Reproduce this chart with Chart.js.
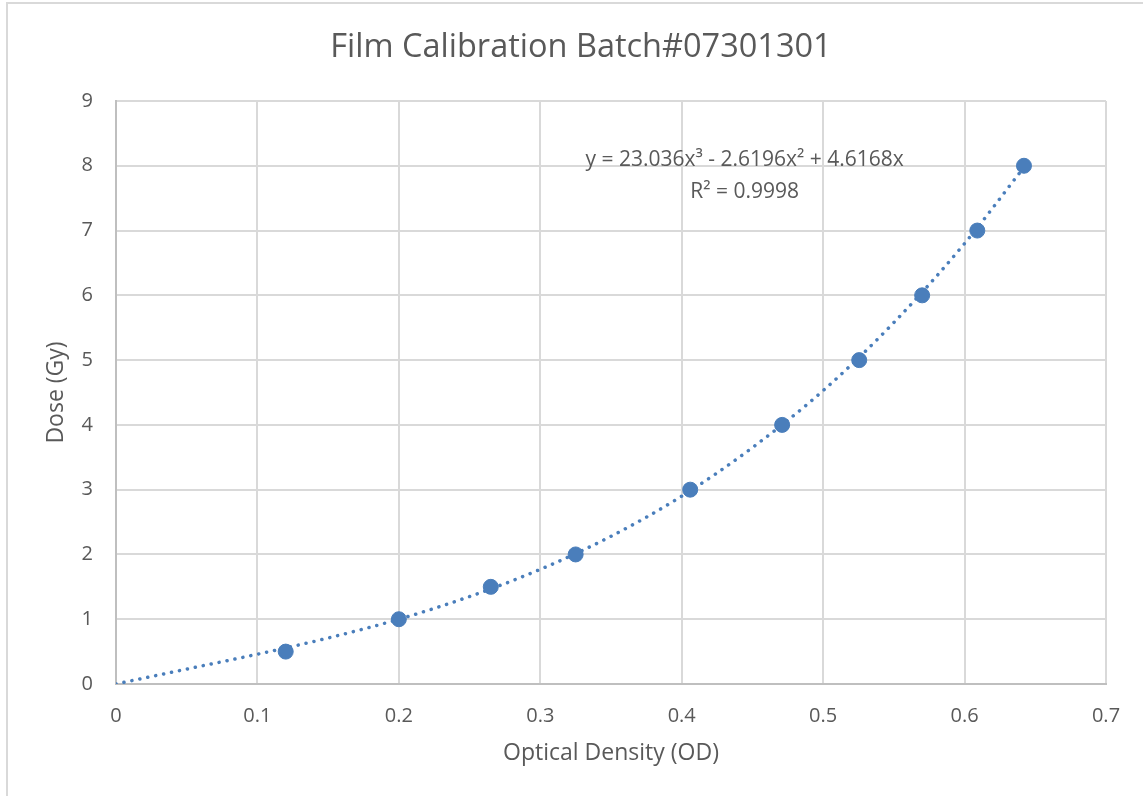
<!DOCTYPE html>
<html>
<head>
<meta charset="utf-8">
<script src="https://cdn.jsdelivr.net/npm/chart.js@4.4.1/dist/chart.umd.min.js"></script>
<style>
  body { margin: 0; background: #fff; }
  canvas { display: block; }
</style>
</head>
<body>
<canvas id="calChart" width="1143" height="796"></canvas>
<script>
// Measured points (optical density vs dose)
const odValues = [0.12, 0.2, 0.265, 0.325, 0.406, 0.471, 0.5255, 0.57, 0.609, 0.642];
const doseValues = [0.5, 1, 1.5, 2, 3, 4, 5, 6, 7, 8];

// Trendline
const trendOd = [0, 0.05, 0.1, 0.15, 0.2, 0.25, 0.3, 0.35, 0.4, 0.45, 0.5, 0.55, 0.6, 0.64];
const trendDose = [0, 0.23, 0.46, 0.71, 1.0, 1.35, 1.77, 2.28, 2.9, 3.65, 4.53, 5.58, 6.8, 7.92];

const chartTitle = 'Film Calibration Batch#07301301';
const equationLines = ['y = 23.036x³ - 2.6196x² + 4.6168x', 'R² = 0.9998'];

const textColor = '#595959';
const gridColor = '#d9d9d9';
const blue = '#4a7ebb';
const fontFamily = '"Open Sans", sans-serif';

// Outer frame, title (centred on the whole chart box like Excel) and trendline label
const extras = {
    id: 'extras',
    beforeDraw(chart) {
        const ctx = chart.ctx;
        ctx.save();
        ctx.fillStyle = '#fff';
        ctx.fillRect(0, 0, chart.width, chart.height);
        ctx.strokeStyle = '#d9d9d9';
        ctx.lineWidth = 2;
        ctx.strokeRect(7, 3, 2000, 2000);
        ctx.fillStyle = textColor;
        ctx.font = '32.5px ' + fontFamily;
        ctx.textAlign = 'center';
        ctx.textBaseline = 'middle';
        ctx.fillText(chartTitle, 581, 48);
        ctx.restore();
    },
    afterDraw(chart) {
        const ctx = chart.ctx;
        const x = chart.scales.x.getPixelForValue(0.4445);
        const y = chart.scales.y.getPixelForValue(8.09);
        ctx.save();
        ctx.fillStyle = textColor;
        ctx.font = '21px ' + fontFamily;
        ctx.textAlign = 'center';
        ctx.textBaseline = 'middle';
        ctx.fillText(equationLines[0], x, y);
        ctx.fillText(equationLines[1], x, y + 32);
        ctx.restore();
    }
};

new Chart(document.getElementById('calChart').getContext('2d'), {
    type: 'scatter',
    data: {
        datasets: [{
            label: 'Dose',
            data: odValues.map((v, i) => ({ x: v, y: doseValues[i] })),
            backgroundColor: blue,
            borderColor: blue,
            pointRadius: 7.5,
            pointHoverRadius: 7.5,
            order: 1
        }, {
            label: 'Trend',
            data: trendOd.map((v, i) => ({ x: v, y: trendDose[i] })),
            showLine: true,
            cubicInterpolationMode: 'monotone',
            borderColor: blue,
            borderWidth: 3.5,
            borderDash: [0.1, 8],
            borderCapStyle: 'round',
            pointRadius: 0,
            order: 2
        }]
    },
    options: {
        responsive: false,
        animation: false,
        layout: { padding: { left: 0, right: 37, top: 101, bottom: 0 } },
        plugins: {
            legend: { display: false },
            tooltip: { enabled: false },
            title: { display: false }
        },
        scales: {
            x: {
                type: 'linear',
                min: 0,
                max: 0.7,
                afterFit: s => { s.height = 112; },
                ticks: {
                    stepSize: 0.1,
                    padding: 20,
                    color: textColor,
                    font: { family: fontFamily, size: 20 },
                    callback: v => String(Math.round(v * 10) / 10)
                },
                grid: { color: gridColor, lineWidth: 2, drawTicks: false },
                border: { color: '#bfbfbf', width: 2 },
                title: {
                    display: true,
                    text: 'Optical Density (OD)',
                    color: textColor,
                    font: { family: fontFamily, size: 23, lineHeight: 1.2 },
                    padding: { top: 0, bottom: 29 }
                }
            },
            y: {
                min: 0,
                max: 9,
                afterFit: s => { s.width = 116; },
                ticks: {
                    stepSize: 1,
                    padding: 23,
                    color: textColor,
                    font: { family: fontFamily, size: 20 }
                },
                grid: { color: gridColor, lineWidth: 2, drawTicks: false },
                border: { color: '#bfbfbf', width: 2 },
                title: {
                    display: true,
                    text: 'Dose (Gy)',
                    color: textColor,
                    font: { family: fontFamily, size: 23, lineHeight: 1.2 },
                    padding: { top: 43, bottom: 0 }
                }
            }
        }
    },
    plugins: [extras]
});
</script>
</body>
</html>
